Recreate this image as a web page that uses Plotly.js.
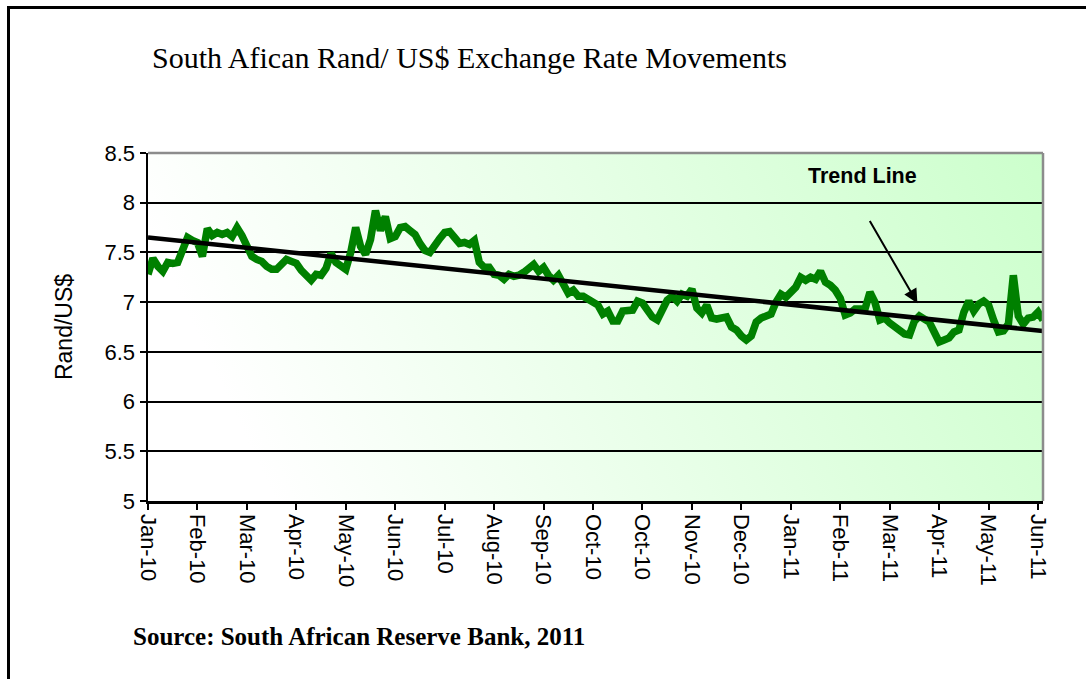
<!DOCTYPE html>
<html>
<head>
<meta charset="utf-8">
<script src="https://cdn.plot.ly/plotly-3.0.1.min.js"></script>
<style>
  body { margin: 0; background: #ffffff; }
  #wrap { position: relative; width: 1086px; height: 679px; overflow: hidden; }
  #frame { position: absolute; left: 7px; top: 6px; width: 1200px; height: 800px;
           border-left: 3px solid #000; border-top: 3px solid #000; pointer-events: none; }
  #bg { position: absolute; left: 148px; top: 153px; width: 895px; height: 348px;
        background: linear-gradient(65deg, #ffffff 12%, #ccffcc 100%); }
  #chart { position: absolute; left: 0; top: 0; width: 1086px; height: 679px; }
</style>
</head>
<body>
<div id="wrap">
  <div id="bg"></div>
  <div id="chart"></div>
  <div id="frame"></div>
</div>
<script>
// Rand per US$ (daily samples, Jan-2010 .. Jun-2011)
const rate = [
  7.28, 7.44, 7.36, 7.31, 7.40, 7.39, 7.40, 7.55, 7.65, 7.62,
  7.60, 7.46, 7.74, 7.67, 7.70, 7.68, 7.70, 7.66, 7.75, 7.67,
  7.57, 7.46, 7.43, 7.41, 7.36, 7.33, 7.33, 7.38, 7.43, 7.41,
  7.39, 7.32, 7.26, 7.22, 7.28, 7.27, 7.34, 7.49, 7.40, 7.36,
  7.33, 7.50, 7.75, 7.56, 7.48, 7.63, 7.92, 7.72, 7.86, 7.64,
  7.66, 7.75, 7.76, 7.72, 7.68, 7.59, 7.52, 7.50, 7.58, 7.64,
  7.70, 7.71, 7.65, 7.59, 7.60, 7.58, 7.62, 7.40, 7.35, 7.35,
  7.28, 7.27, 7.23, 7.28, 7.26, 7.27, 7.30, 7.35, 7.38, 7.31,
  7.35, 7.27, 7.22, 7.27, 7.17, 7.09, 7.12, 7.06, 7.06, 7.03,
  6.98, 6.97, 6.88, 6.91, 6.81, 6.81, 6.91, 6.91, 6.92, 7.01,
  6.99, 6.92, 6.85, 6.82, 6.94, 7.02, 7.06, 7.01, 7.08, 7.06,
  7.13, 6.94, 6.89, 6.97, 6.84, 6.83, 6.84, 6.85, 6.75, 6.72,
  6.66, 6.62, 6.66, 6.80, 6.84, 6.86, 6.88, 7.00, 7.08, 7.05,
  7.09, 7.15, 7.25, 7.22, 7.25, 7.23, 7.31, 7.20, 7.17, 7.12,
  7.04, 6.87, 6.89, 6.93, 6.93, 6.93, 7.10, 7.00, 6.82, 6.84,
  6.79, 6.75, 6.71, 6.68, 6.67, 6.81, 6.86, 6.83, 6.80, 6.70,
  6.60, 6.62, 6.64, 6.70, 6.72, 6.90, 7.01, 6.91, 6.98, 7.01,
  6.97, 6.82, 6.70, 6.71, 6.78, 7.27, 6.86, 6.78, 6.84, 6.85,
  6.90, 6.82
];

// category labels shown every 10th sample (as on the original axis)
const tickLabels = [
  "Jan-10", "Feb-10", "Mar-10", "Apr-10", "May-10", "Jun-10", "Jul-10",
  "Aug-10", "Sep-10", "Oct-10", "Oct-10", "Nov-10", "Dec-10", "Jan-11",
  "Feb-11", "Mar-11", "Apr-11", "May-11", "Jun-11"
];
const tickStep = 10;

// linear trend line end values
const trendEnds = [7.65, 6.71];

const idx = rate.map((v, i) => i);
const lastIdx = rate.length - 1;
const tickVals = tickLabels.map((t, i) => i * tickStep);

const rateTrace = {
  x: idx,
  y: rate,
  mode: "lines",
  type: "scatter",
  line: { color: "#008000", width: 7.5 },
  hoverinfo: "y",
};

const trendTrace = {
  x: [0, lastIdx],
  y: trendEnds,
  mode: "lines",
  type: "scatter",
  line: { color: "#000000", width: 4.5 },
  hoverinfo: "skip",
};

const layout = {
  width: 1086,
  height: 679,
  showlegend: false,
  paper_bgcolor: "rgba(0,0,0,0)",
  plot_bgcolor: "rgba(0,0,0,0)",
  margin: { l: 148, r: 43, t: 153, b: 178 },
  font: { family: "Liberation Sans, Arial, sans-serif", color: "#000000" },
  xaxis: {
    range: [0, lastIdx],
    tickmode: "array",
    tickvals: tickVals,
    ticktext: tickLabels,
    tickangle: 90,
    tickfont: { size: 22 },
    ticks: "outside",
    ticklen: 6,
    tickwidth: 2,
    tickcolor: "#000000",
    showline: true,
    linecolor: "#000000",
    linewidth: 2.5,
    showgrid: false,
    zeroline: false,
  },
  yaxis: {
    range: [5, 8.5],
    tickmode: "linear",
    tick0: 5,
    dtick: 0.5,
    tickfont: { size: 22 },
    ticks: "outside",
    ticklen: 6,
    tickwidth: 2,
    tickcolor: "#000000",
    showline: true,
    linecolor: "#000000",
    linewidth: 2.5,
    showgrid: true,
    gridcolor: "#000000",
    gridwidth: 2,
    zeroline: false,
    title: { text: "Rand/US$", font: { size: 23 }, standoff: 26 },
  },
  shapes: [
    { type: "line", xref: "paper", yref: "paper", x0: 0, x1: 1, y0: 1, y1: 1,
      line: { color: "#8c8c8c", width: 2.5 } },
    { type: "line", xref: "paper", yref: "paper", x0: 1, x1: 1, y0: 0, y1: 1,
      line: { color: "#8c8c8c", width: 2.5 } },
  ],
  annotations: [
    {
      text: "South Afican Rand/ US$ Exchange Rate Movements",
      xref: "paper", yref: "paper", x: 0.002, y: 1.273,
      xanchor: "left", yanchor: "middle", showarrow: false,
      font: { family: "Liberation Serif, Times New Roman, serif", size: 30 },
    },
    {
      text: "<b>Source: South African Reserve Bank, 2011</b>",
      xref: "paper", yref: "paper", x: -0.019, y: -0.388,
      xanchor: "left", yanchor: "middle", showarrow: false,
      font: { family: "Liberation Serif, Times New Roman, serif", size: 25 },
    },
    {
      text: "<b>Trend Line</b>",
      xref: "x", yref: "y", x: 144.4, y: 8.27,
      xanchor: "center", yanchor: "middle", showarrow: false,
      font: { size: 21.5 },
    },
    {
      text: "",
      xref: "x", yref: "y", x: 155.6, y: 6.99,
      axref: "x", ayref: "y", ax: 145.8, ay: 7.83,
      showarrow: true, arrowhead: 2, arrowsize: 1.4, arrowwidth: 2,
      arrowcolor: "#000000",
    },
  ],
};

Plotly.newPlot("chart", [rateTrace, trendTrace], layout, { staticPlot: true });
</script>
</body>
</html>
